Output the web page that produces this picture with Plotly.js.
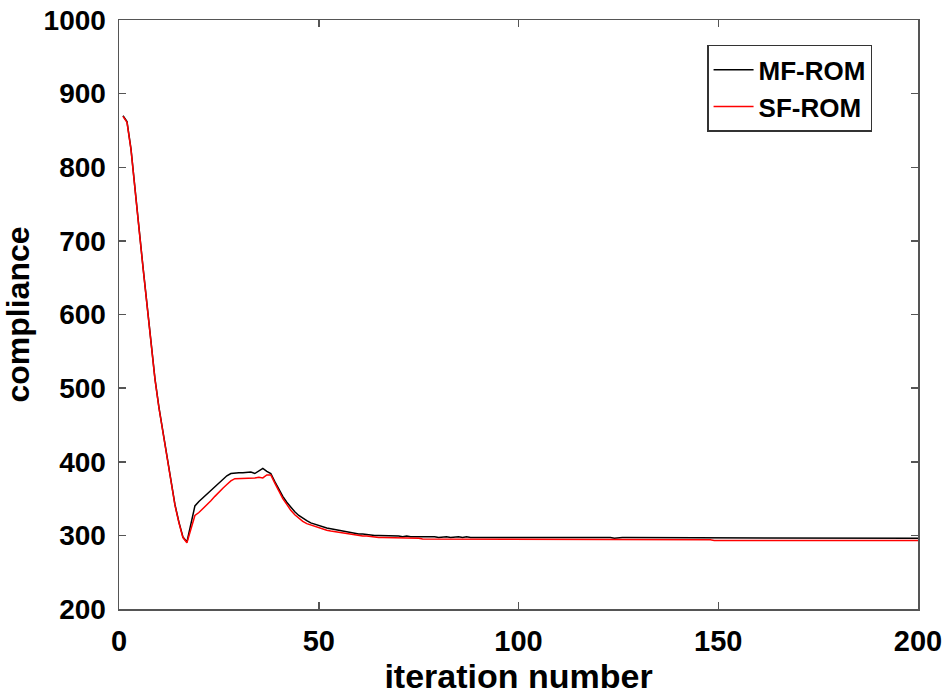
<!DOCTYPE html>
<html>
<head>
<meta charset="utf-8">
<script src="https://cdn.plot.ly/plotly-3.0.1.min.js"></script>
<style>html,body{margin:0;padding:0;background:#fff;}#chart{width:944px;height:699px;}</style>
</head>
<body>
<div id="chart"></div>
<script>
// compliance values per iteration (1..200)
const mfRom = [
  870,862,825,775,718,665,612,560,513,474,
  440,405,372,342,318,298,291,314,340,346,
  351,356,362,367,372,377,381,384,385,385,
  385,386,386,384,387,391,387,384,373,362,
  353,345,338,332,327,323,320,317,315,313,
  312,310,309,308,307,306,305,304,303,302,
  302,301,301,300,300,300,299,299,299,299,
  298,299,298,298,298,299,298,298,298,297,
  298,298,297,298,298,297,298,297,297,298,
  297,297,298,297,297,297,298,297,297,297,
  297,298,297,297,297,297,298,297,297,297,
  297,297,297,298,297,297,297,297,297,297,
  297,297,297,296,297,297,297,297,296,297,
  297,297,296,297,297,297,296,297,297,296,
  297,296,297,296,296,297,296,296,296,296,
  296,296,296,296,296,296,296,296,296,296,
  296,296,296,296,296,296,296,296,296,296,
  296,296,296,296,296,296,296,296,296,296,
  296,296,296,296,296,296,296,296,296,296,
  296,296,296,296,296,296,296,296,296,296
];
const sfRom = [
  869,861,824,774,717,664,611,559,512,473,
  439,404,371,341,317,297,290,308,327,331,
  336,341,347,353,359,364,369,374,377,377,
  377,377,378,378,379,378,382,382,371,360,
  350,342,334,328,323,319,316,314,312,310,
  309,307,306,305,304,303,302,301,301,300,
  299,299,298,298,297,297,297,296,296,296,
  296,296,296,296,296,295,295,295,295,295,
  295,295,295,295,295,295,295,295,295,295,
  295,295,295,295,295,295,295,295,295,295,
  295,295,295,295,295,295,295,295,295,295,
  295,295,295,295,294,294,294,294,294,294,
  294,294,294,294,294,294,294,294,294,294,
  294,294,294,294,294,294,294,294,294,294,
  294,294,294,294,294,294,294,294,293,293,
  293,293,293,293,293,293,293,293,293,293,
  293,293,293,293,293,293,293,293,293,293,
  293,293,293,293,293,293,293,293,293,293,
  293,293,293,293,293,293,293,293,293,293,
  293,293,293,293,293,293,293,293,293,293
];
const iterations = mfRom.map((_, i) => i + 1);
const seriesNames = ["MF-ROM", "SF-ROM"];
const xTicks = [0, 50, 100, 150, 200];
const yTicks = [200, 300, 400, 500, 600, 700, 800, 900, 1000];

const traces = [
  {x: iterations, y: mfRom, name: seriesNames[0], type: "scatter", mode: "lines",
   line: {color: "#000000", width: 1.5}},
  {x: iterations, y: sfRom, name: seriesNames[1], type: "scatter", mode: "lines",
   line: {color: "#ff0000", width: 1.5}}
];

const axisCommon = {
  showgrid: false, zeroline: false, showline: true, linecolor: "#555555", linewidth: 1.5,
  mirror: "ticks", ticks: "inside", ticklen: 7, tickwidth: 1.5, tickcolor: "#555555"
};

const layout = {
  width: 944, height: 699,
  margin: {l: 119, r: 26, t: 20, b: 90},
  paper_bgcolor: "#ffffff", plot_bgcolor: "#ffffff",
  showlegend: true,
  legend: {
    x: 0.736, y: 0.958, xanchor: "left", yanchor: "top",
    bgcolor: "#ffffff", bordercolor: "#333333", borderwidth: 1.5,
    itemwidth: 40,
    font: {family: "Liberation Sans, Arial, sans-serif", size: 26, color: "#000", weight: "bold"},
    tracegroupgap: 0
  },
  xaxis: Object.assign({}, axisCommon, {
    range: [0, 200], tickvals: xTicks, ticktext: xTicks.map(String),
    tickfont: {family: "Liberation Sans, Arial, sans-serif", size: 29, color: "#000", weight: "bold"},
    ticklabelstandoff: 6,
    title: {text: "iteration number", standoff: 8,
      font: {family: "Liberation Sans, Arial, sans-serif", size: 34, color: "#000", weight: "bold"}}
  }),
  yaxis: Object.assign({}, axisCommon, {
    range: [200, 1000], tickvals: yTicks, ticktext: yTicks.map(String),
    tickfont: {family: "Liberation Sans, Arial, sans-serif", size: 28, color: "#000", weight: "bold"},
    ticklabelstandoff: 6,
    title: {text: "compliance", standoff: 12,
      font: {family: "Liberation Sans, Arial, sans-serif", size: 32, color: "#000", weight: "bold"}}
  })
};

Plotly.newPlot("chart", traces, layout, {staticPlot: true, displayModeBar: false});
</script>
</body>
</html>
